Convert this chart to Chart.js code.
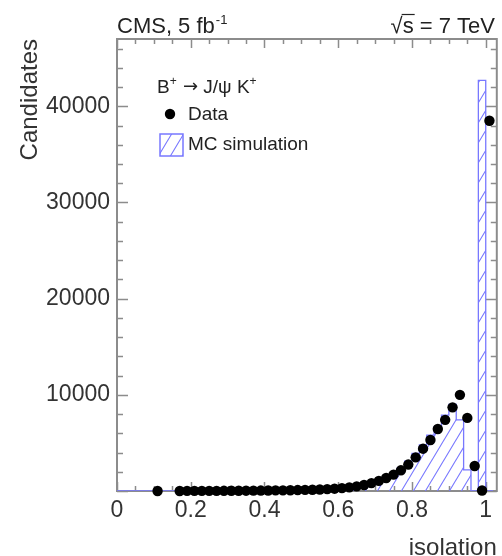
<!DOCTYPE html>
<html><head><meta charset="utf-8">
<script src="https://cdn.jsdelivr.net/npm/chart.js@4/dist/chart.umd.min.js"></script>
<style>html,body{margin:0;padding:0;background:#fff}#wrap{width:502px;height:556px}</style>
</head><body><div id="wrap"><canvas id="c" width="502" height="556" style="width:502px;height:556px"></canvas></div>
<script>
// ---- data (bin centres, bin width 0.02) ----
const binCenters = [0.01,0.03,0.05,0.07,0.09,0.11,0.13,0.15,0.17,0.19,
  0.21,0.23,0.25,0.27,0.29,0.31,0.33,0.35,0.37,0.39,
  0.41,0.43,0.45,0.47,0.49,0.51,0.53,0.55,0.57,0.59,
  0.61,0.63,0.65,0.67,0.69,0.71,0.73,0.75,0.77,0.79,
  0.81,0.83,0.85,0.87,0.89,0.91,0.93,0.95,0.97,0.99,1.01];
const binWidth = 0.02;
const dataCounts = [null,null,null,null,null,5,null,null,5,8,
  10,12,15,18,20,25,28,32,38,45,
  52,60,70,82,98,115,135,160,190,240,
  300,380,480,620,820,1050,1350,1700,2150,2750,
  3500,4400,5300,6450,7400,8700,10000,7600,2600,50,38500];
const mcCounts = [0,0,0,0,0,0,0,0,0,0,
  1,1,1,2,2,3,3,4,6,8,
  11,15,21,29,40,55,75,100,130,170,
  220,290,380,500,650,850,1100,1450,1850,2400,
  3100,3900,4800,5800,6700,7900,9000,7400,2200,0,42700];
const xTicks = [0,0.2,0.4,0.6,0.8,1];
const yTicks = [10000,20000,30000,40000];
const xRange = [0, 1.03];
const yRange = [0, 47000];

const BLUE = 'rgb(120,120,255)';
const FONT = '"Liberation Sans", Arial, Helvetica, sans-serif';

function hatch(ctx) {
  const w = 12, h = 20;
  const t = document.createElement('canvas');
  t.width = w; t.height = h;
  const g = t.getContext('2d');
  g.strokeStyle = BLUE; g.lineWidth = 1.1;
  g.beginPath();
  g.moveTo(-w, 2*h); g.lineTo(2*w, -h);
  g.moveTo(0, 2*h); g.lineTo(3*w, -h);
  g.moveTo(-2*w, 2*h); g.lineTo(w, -h);
  g.stroke();
  return ctx.createPattern(t, 'repeat');
}
const cv = document.getElementById('c');
const c2 = cv.getContext('2d');
const hatchPattern = hatch(c2);

// step outline for the MC histogram built from the bins
const mcSteps = [];
binCenters.forEach((c, i) => mcSteps.push({x: c - binWidth/2, y: mcCounts[i]}));
mcSteps.push({x: binCenters[binCenters.length-1] + binWidth/2, y: 0});
const dataPts = [];
binCenters.forEach((c, i) => { if (dataCounts[i] !== null) dataPts.push({x: c, y: dataCounts[i]}); });

const decor = {
  id: 'decor',
  beforeDatasetsDraw(chart) {
    const {ctx, chartArea: a, scales: {x, y}} = chart;
    ctx.save();
    ctx.strokeStyle = '#8c8c8c'; ctx.lineWidth = 1.5;
    ctx.beginPath();
    for (let k = 0; k * 0.05 <= xRange[1] + 1e-9; k++) {
      const px = Math.round(x.getPixelForValue(k * 0.05)) + 0.5;
      const L = (k % 4 === 0) ? 9 : 5;
      ctx.moveTo(px, a.bottom); ctx.lineTo(px, a.bottom - L);
      ctx.moveTo(px, a.top); ctx.lineTo(px, a.top + L);
    }
    for (let k = 0; k * 2000 <= yRange[1]; k++) {
      const py = Math.round(y.getPixelForValue(k * 2000)) + 0.5;
      const L = (k % 5 === 0) ? 11 : 6;
      ctx.moveTo(a.left, py); ctx.lineTo(a.left + L, py);
      ctx.moveTo(a.right, py); ctx.lineTo(a.right - L, py);
    }
    ctx.stroke();
    ctx.lineWidth = 2;
    ctx.strokeRect(a.left, a.top, a.right - a.left, a.bottom - a.top);
    ctx.restore();
  },
  afterDraw(chart) {
    const {ctx} = chart;
    ctx.save();
    ctx.fillStyle = '#222';
    ctx.textBaseline = 'alphabetic';
    // header left
    ctx.font = '22px ' + FONT;
    ctx.textAlign = 'left';
    ctx.fillText('CMS, 5 fb', 117, 33);
    let w = ctx.measureText('CMS, 5 fb').width;
    ctx.font = '13px ' + FONT;
    ctx.fillText('-1', 117 + w + 1, 24);
    // header right
    ctx.font = '22px ' + FONT;
    const rest = ' = 7 TeV';
    const wr = ctx.measureText(rest).width;
    const ws = ctx.measureText('s').width;
    const wq = ctx.measureText('\u221A').width;
    const xr = 495;
    ctx.fillText(rest, xr - wr, 33);
    ctx.fillText('s', xr - wr - ws, 33);
    ctx.fillText('\u221A', xr - wr - ws - wq, 33);
    ctx.strokeStyle = '#222'; ctx.lineWidth = 1.2;
    ctx.beginPath(); ctx.moveTo(xr - wr - ws - 1, 14.5); ctx.lineTo(xr - wr + 1, 14.5); ctx.stroke();
    // legend header
    let lx = 157; const lb = 93;
    const pieces = [['B','19px ' + FONT, 0], ['+','12px ' + FONT, 8], [' ','19px ' + FONT, 0],
      ['\u2192','18px "DejaVu Sans"', 1], [' J/\u03C8 K','19px ' + FONT, 0], ['+','12px ' + FONT, 8]];
    pieces.forEach(([t, f, up]) => {
      ctx.font = f;
      ctx.fillText(t, lx, lb - up);
      lx += ctx.measureText(t).width + (up > 4 ? 1 : 0);
    });
    // legend entries
    ctx.font = '19px ' + FONT;
    ctx.textBaseline = 'middle';
    ctx.beginPath(); ctx.arc(170, 114, 5.2, 0, Math.PI*2); ctx.fillStyle = '#000'; ctx.fill();
    ctx.fillStyle = '#222';
    ctx.fillText('Data', 188, 115);
    ctx.fillStyle = hatchPattern;
    ctx.fillRect(160, 134, 23, 22);
    ctx.strokeStyle = BLUE; ctx.lineWidth = 1.5;
    ctx.strokeRect(160, 134, 23, 22);
    ctx.fillStyle = '#222';
    ctx.fillText('MC simulation', 188, 145);
    ctx.restore();
  }
};

new Chart(cv, {
  type: 'line',
  data: {
    datasets: [
      {
        label: 'Data', data: dataPts, showLine: false,
        pointRadius: 5.2, pointBackgroundColor: '#000', pointBorderWidth: 0,
        clip: false, order: 1
      },
      {
        label: 'MC simulation', data: mcSteps, stepped: 'after',
        borderColor: BLUE, borderWidth: 1.3, backgroundColor: hatchPattern,
        fill: 'origin', pointRadius: 0, order: 2
      }
    ]
  },
  options: {
    responsive: false, animation: false, devicePixelRatio: 1,
    layout: {padding: {top: 39, right: 2, left: 0, bottom: 0}},
    plugins: {legend: {display: false}, tooltip: {enabled: false}},
    scales: {
      x: {
        type: 'linear', min: xRange[0], max: xRange[1],
        grid: {display: false, drawTicks: false},
        border: {display: false},
        afterFit(s) { s.height = 65; },
        afterBuildTicks(s) { s.ticks = xTicks.map(v => ({value: v})); },
        ticks: {
          padding: 6, color: '#333', maxRotation: 0,
          font: {family: FONT, size: 23},
          callback: v => String(Number(v.toFixed(2)))
        },
        title: {display: true, text: 'isolation', align: 'end', color: '#333',
          font: {family: FONT, size: 24, lineHeight: 1}, padding: {top: 0, bottom: -4}}
      },
      y: {
        type: 'linear', min: yRange[0], max: yRange[1],
        grid: {display: false, drawTicks: false},
        border: {display: false},
        afterFit(s) { s.width = 117; },
        afterBuildTicks(s) { s.ticks = yTicks.map(v => ({value: v})); },
        ticks: {
          padding: 7, color: '#333',
          font: {family: FONT, size: 23},
          callback: v => String(v)
        },
        title: {display: true, text: 'Candidates', align: 'end', color: '#333',
          font: {family: FONT, size: 24, lineHeight: 1}, padding: {top: 18, bottom: 0}}
      }
    }
  },
  plugins: [decor]
});
</script>
</body></html>
